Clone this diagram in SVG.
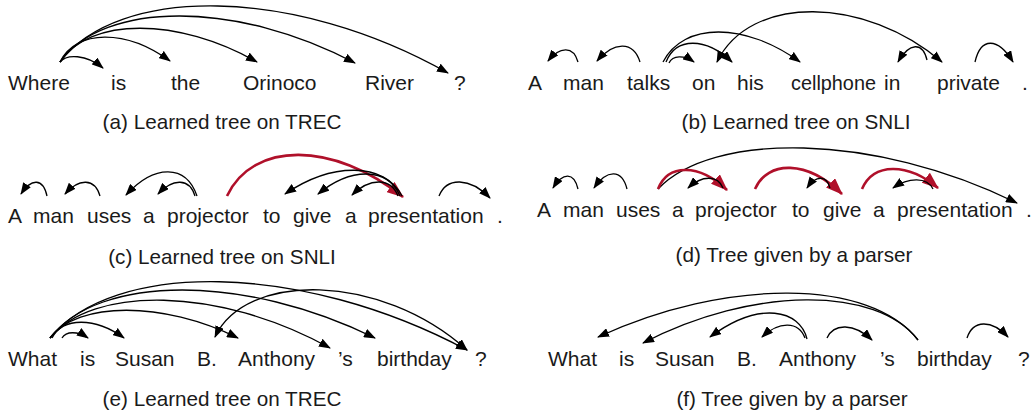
<svg xmlns="http://www.w3.org/2000/svg" width="1032" height="414" viewBox="0 0 1032 414">
<style>
text{font-family:"Liberation Sans",Arial,Helvetica,sans-serif;font-size:21px;fill:#1a1a1a}
.cap{text-anchor:middle;font-size:20.7px}
.k{fill:none;stroke:#000;stroke-width:1.3;marker-end:url(#ah)}
.kk{fill:none;stroke:#000;stroke-width:1.3;marker-end:url(#ah);marker-start:url(#ahs)}
.r{fill:none;stroke:#b0102a;stroke-width:2.6;marker-end:url(#ahr)}
</style>
<defs>
<marker id="ah" viewBox="0 0 12 9" refX="11" refY="4.5" markerWidth="12" markerHeight="9" markerUnits="userSpaceOnUse" orient="auto"><path d="M0,0 L12,4.5 L0,9 z" fill="#000"/></marker>
<marker id="ahs" viewBox="0 0 12 9" refX="11" refY="4.5" markerWidth="12" markerHeight="9" markerUnits="userSpaceOnUse" orient="auto-start-reverse"><path d="M0,0 L12,4.5 L0,9 z" fill="#000"/></marker>
<marker id="ahr" viewBox="0 0 17 13" refX="16" refY="6.5" markerWidth="17" markerHeight="13" markerUnits="userSpaceOnUse" orient="auto"><path d="M0,0 L17,6.5 L0,13 z" fill="#b0102a"/></marker>
</defs>
<rect width="1032" height="414" fill="#fff"/>

<!-- panel a -->
<g id="a-Where"><text x="8" y="90">Where</text></g>
<g id="a-is"><text x="111" y="90">is</text></g>
<g id="a-the"><text x="171" y="90">the</text></g>
<g id="a-Orinoco"><text x="243" y="90">Orinoco</text></g>
<g id="a-River"><text x="365" y="90">River</text></g>
<g id="a-q"><text x="454" y="90">?</text></g>
<g id="a-caption"><text class="cap" x="222" y="129">(a) Learned tree on TREC</text></g>
<g id="a-connectors">
<path class="k" d="M60,62 C66.5,54 86,54 103,68"/>
<path class="k" d="M60,62 C76.5,29 126,29 170,61"/>
<path class="k" d="M60,62 C89.5,17 178,17 257,62"/>
<path class="k" d="M60,62 C104,0.5 237,0.5 355,63"/>
<path class="k" d="M60,62 C118,-14.5 293,-14.5 448,73"/>
</g>

<!-- panel b -->
<g id="b-A"><text x="528" y="90">A</text></g>
<g id="b-man"><text x="563" y="90">man</text></g>
<g id="b-talks"><text x="627" y="90">talks</text></g>
<g id="b-on"><text x="692" y="90">on</text></g>
<g id="b-his"><text x="737" y="90">his</text></g>
<g id="b-cellphone"><text x="791" y="90" textLength="85" lengthAdjust="spacingAndGlyphs">cellphone</text></g>
<g id="b-in"><text x="884" y="90">in</text></g>
<g id="b-private"><text x="937" y="90">private</text></g>
<g id="b-dot"><text x="1022" y="90">.</text></g>
<g id="b-caption"><text class="cap" x="796" y="129">(b) Learned tree on SNLI</text></g>
<g id="b-connectors">
<path class="k" d="M578,62 C573.5,46 560,46 548,61"/>
<path class="k" d="M640,62 C633.5,41 614,41 597,61"/>
<path class="k" d="M669,63 C672.75,55 684,55 694,62"/>
<path class="k" d="M666,62 C676,37 705.6,37 732,62"/>
<path class="k" d="M663,62 C683.5,22 745,22 800,62"/>
<path class="kk" d="M717,62 C750,-6 865,-4 942,62"/>
<path class="k" d="M927,60 C922.6,42 909.6,42 898,62"/>
<path class="k" d="M975,62 C980.7,37 997.8,37 1013,62"/>
</g>

<!-- panel c -->
<g id="c-A"><text x="8" y="223">A</text></g>
<g id="c-man"><text x="33" y="223">man</text></g>
<g id="c-uses"><text x="87" y="223">uses</text></g>
<g id="c-a1"><text x="143" y="223">a</text></g>
<g id="c-projector"><text x="167" y="223">projector</text></g>
<g id="c-to"><text x="263" y="223">to</text></g>
<g id="c-give"><text x="293" y="223">give</text></g>
<g id="c-a2"><text x="345" y="223">a</text></g>
<g id="c-presentation"><text x="368" y="223">presentation</text></g>
<g id="c-dot"><text x="497" y="223">.</text></g>
<g id="c-caption"><text class="cap" x="222" y="264">(c) Learned tree on SNLI</text></g>
<g id="c-connectors">
<path class="k" d="M47,196 C43,178 31.4,178 21,194"/>
<path class="k" d="M100,196 C94.75,178 79,178 65,194"/>
<path class="k" d="M197,196 C186,164 154.4,164 126,195"/>
<path class="k" d="M195,196 C189.5,178 173,178 158,194"/>
<path class="r" d="M227,196 C253,141 333,141 403,197"/>
<path class="k" d="M402,196 C384.5,162 332,162 285,194"/>
<path class="k" d="M400,196 C387.7,167 351,167 318,194"/>
<path class="k" d="M398,196 C391,177.5 370,177.5 352,195"/>
<path class="k" d="M439,196 C446.6,177 469.6,177 490,198"/>
</g>

<!-- panel d -->
<g id="d-A"><text x="537" y="217">A</text></g>
<g id="d-man"><text x="563" y="217">man</text></g>
<g id="d-uses"><text x="616" y="217">uses</text></g>
<g id="d-a1"><text x="672" y="217">a</text></g>
<g id="d-projector"><text x="695" y="217">projector</text></g>
<g id="d-to"><text x="792" y="217">to</text></g>
<g id="d-give"><text x="823" y="217">give</text></g>
<g id="d-a2"><text x="873" y="217">a</text></g>
<g id="d-presentation"><text x="897" y="217">presentation</text></g>
<g id="d-dot"><text x="1026" y="217">.</text></g>
<g id="d-caption"><text class="cap" x="794" y="262">(d) Tree given by a parser</text></g>
<g id="d-connectors">
<path class="k" d="M578,189 C574,172 563,172 553,188"/>
<path class="k" d="M627,189 C622,169 607,169 594,188"/>
<path class="k" d="M658,189 C712,132 873,132 1017,203"/>
<path class="r" d="M658,189 C668,163.5 699,163.5 727,190"/>
<path class="k" d="M723,188 C717.75,175 702,175 688,188"/>
<path class="r" d="M755,189 C768,160 807,160 842,194"/>
<path class="k" d="M830,188 C826.5,175 816,175 807,188"/>
<path class="r" d="M862,189 C873.4,162.5 907.6,162.5 938,188"/>
<path class="k" d="M933,189 C927,177 909,177 893,188"/>
</g>

<!-- panel e -->
<g id="e-What"><text x="8" y="366">What</text></g>
<g id="e-is"><text x="80" y="366">is</text></g>
<g id="e-Susan"><text x="115" y="366">Susan</text></g>
<g id="e-B"><text x="197" y="366">B.</text></g>
<g id="e-Anthony"><text x="238" y="366">Anthony</text></g>
<g id="e-s"><text x="338" y="366">’s</text></g>
<g id="e-birthday"><text x="377" y="366">birthday</text></g>
<g id="e-q"><text x="475" y="366">?</text></g>
<g id="e-caption"><text class="cap" x="222" y="406">(e) Learned tree on TREC</text></g>
<g id="e-connectors">
<path class="k" d="M62,338 C66,331 77.6,331 88,338"/>
<path class="k" d="M52,338 C62.8,317 95,317 124,338"/>
<path class="k" d="M50,338 C78,301 163,301 238,338"/>
<path class="k" d="M50,338 C92,286 218,286 330,348"/>
<path class="k" d="M50,338 C99,274 245,274 375,338"/>
<path class="k" d="M50,338 C112.5,261 300,261 467,350"/>
<path class="kk" d="M215,337 C245,272 380,272 467,350"/>
</g>

<!-- panel f -->
<g id="f-What"><text x="548" y="366">What</text></g>
<g id="f-is"><text x="619" y="366">is</text></g>
<g id="f-Susan"><text x="655" y="366">Susan</text></g>
<g id="f-B"><text x="737" y="366">B.</text></g>
<g id="f-Anthony"><text x="779" y="366">Anthony</text></g>
<g id="f-s"><text x="880" y="366">’s</text></g>
<g id="f-birthday"><text x="917" y="366">birthday</text></g>
<g id="f-q"><text x="1018" y="366">?</text></g>
<g id="f-caption"><text class="cap" x="792" y="406">(f) Tree given by a parser</text></g>
<g id="f-connectors">
<path class="k" d="M918,340 C870,278 726,278 598,337"/>
<path class="k" d="M918,340 C876.75,286 753,286 643,343"/>
<path class="k" d="M807,339 C800,310 760,300 710,337"/>
<path class="k" d="M805,338 C798.5,321 779,321 762,337"/>
<path class="k" d="M827,338 C833.75,323 854,323 872,340"/>
<path class="k" d="M967,338 C973,319.5 991.6,319.5 1008,337"/>
</g>
</svg>
